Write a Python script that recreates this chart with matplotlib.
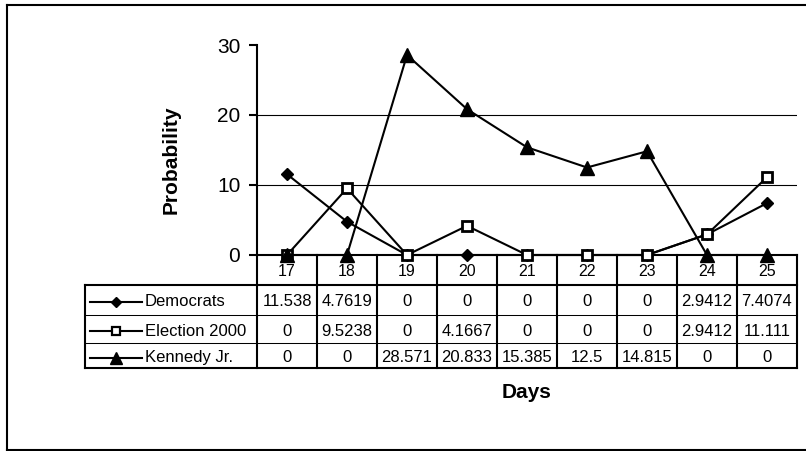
import matplotlib
matplotlib.use('Agg')
import matplotlib.pyplot as plt

# ---------------- data ----------------
days = [17, 18, 19, 20, 21, 22, 23, 24, 25]
series_names = ["Democrats", "Election 2000", "Kennedy Jr."]
democrats = [11.538, 4.7619, 0, 0, 0, 0, 0, 2.9412, 7.4074]
election_2000 = [0, 9.5238, 0, 4.1667, 0, 0, 0, 2.9412, 11.111]
kennedy_jr = [0, 0, 28.571, 20.833, 15.385, 12.5, 14.815, 0, 0]
y_ticks = [0, 10, 20, 30]
x_title = "Days"
y_title = "Probability"

series_values = [democrats, election_2000, kennedy_jr]

plt.rcParams['font.family'] = ['Liberation Sans', 'DejaVu Sans']

W, H = 806, 451
fig = plt.figure(figsize=(W / 100, H / 100), dpi=100)

# overlay axes in pixel coordinates (top-left origin)
ov = fig.add_axes([0, 0, 1, 1], zorder=0)
ov.set_xlim(0, W)
ov.set_ylim(H, 0)
ov.axis('off')

THICK = 1.5
THIN = 0.75

# outer chart-area border
ov.plot([7, 7], [5, 450], color='black', lw=THICK, solid_capstyle='projecting')
ov.plot([7, W + 5], [5, 5], color='black', lw=THICK, solid_capstyle='projecting')
ov.plot([7, W + 5], [450, 450], color='black', lw=THICK, solid_capstyle='projecting')

# plot area
ax_l, ax_r, ax_t, ax_b = 257, 797, 45, 255
ax = fig.add_axes([ax_l / W, 1 - ax_b / H, (ax_r - ax_l) / W, (ax_b - ax_t) / H], zorder=2)
ax.patch.set_alpha(0)
ax.set_xlim(days[0] - 0.5, days[-1] + 0.5)
ax.set_ylim(y_ticks[0], y_ticks[-1])

styles = [
    dict(marker='D', markersize=6.5, markerfacecolor='black', markeredgecolor='black', markeredgewidth=1),
    dict(marker='s', markersize=7, markerfacecolor='white', markeredgecolor='black', markeredgewidth=2),
    dict(marker='^', markersize=10, markerfacecolor='black', markeredgecolor='black', markeredgewidth=1),
]

for vals, st in zip(series_values, styles):
    ax.plot(days, vals, color='black', lw=1.5, clip_on=False, zorder=5, **st)

ax.set_yticks(y_ticks)
ax.set_yticklabels([str(t) for t in y_ticks], fontsize=15)
ax.set_xticks([])
ax.tick_params(axis='y', direction='out', length=6, width=1.5, pad=6, colors='black')
ax.grid(axis='y', color='black', lw=0.8)
for i, gl in enumerate(ax.get_ygridlines()):
    if y_ticks[i] in (y_ticks[0], y_ticks[-1]):
        gl.set_visible(False)
for s in ['top', 'right']:
    ax.spines[s].set_visible(False)
ax.spines['left'].set_linewidth(1.5)
ax.spines['bottom'].set_linewidth(1.5)

# ---------------- data table ----------------
n = len(days)
colw = (ax_r - ax_l) / n
col_edges = [ax_l + i * colw for i in range(n + 1)]
col_centers = [ax_l + (i + 0.5) * colw for i in range(n)]
tab_left = 85
row_edges = [255, 285, 315, 343, 368]  # header, then one row per series

# header labels (days)
for xc, d in zip(col_centers, days):
    ov.text(xc, 271, str(d), ha='center', va='center', fontsize=11.5)

# vertical column lines (thick)
for xe in col_edges:
    ov.plot([xe, xe], [row_edges[0], row_edges[-1]], color='black', lw=THICK)
# left border of legend column
ov.plot([tab_left, tab_left], [row_edges[1], row_edges[-1]], color='black', lw=THICK)
# header bottom (thick), table bottom (thick)
ov.plot([tab_left, ax_r], [row_edges[1], row_edges[1]], color='black', lw=THICK)
ov.plot([tab_left, ax_r], [row_edges[-1], row_edges[-1]], color='black', lw=THICK)
# thin row separators
for ye in row_edges[2:-1]:
    ov.plot([tab_left, ax_r], [ye, ye], color='black', lw=THIN)

key_styles = [
    dict(marker='D', markersize=5, markerfacecolor='black', markeredgecolor='black', markeredgewidth=1),
    dict(marker='s', markersize=5.5, markerfacecolor='white', markeredgecolor='black', markeredgewidth=1.6),
    dict(marker='^', markersize=8, markerfacecolor='black', markeredgecolor='black', markeredgewidth=1),
]

for r, (name, vals, st) in enumerate(zip(series_names, series_values, key_styles)):
    yc = (row_edges[r + 1] + row_edges[r + 2]) / 2 + 2
    ov.plot([90, 142], [yc, yc], color='black', lw=1.5)
    ov.plot([116], [yc], **st)
    ov.text(145, yc, name, ha='left', va='center', fontsize=12)
    for xc, v in zip(col_centers, vals):
        ov.text(xc, yc, f"{v:.5g}", ha='center', va='center', fontsize=12)

# axis titles
ov.text(527, 392, x_title, ha='center', va='center', fontsize=15, fontweight='bold')
ov.text(171, 160, y_title, ha='center', va='center', fontsize=15, fontweight='bold', rotation=90)

fig.savefig('out.png', dpi=100)
